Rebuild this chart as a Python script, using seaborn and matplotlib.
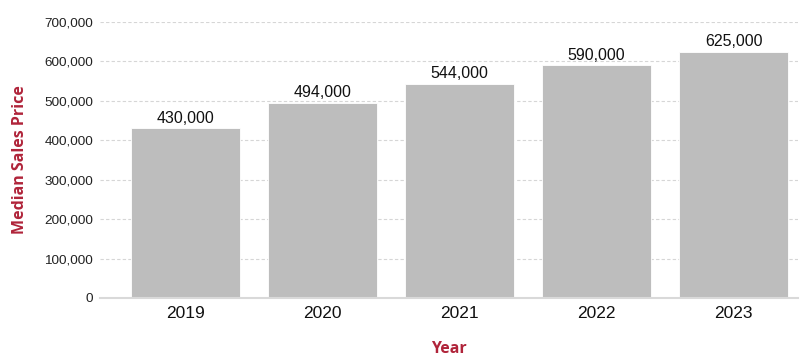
import matplotlib
matplotlib.use("Agg")
import matplotlib.pyplot as plt
import seaborn as sns
import pandas as pd
from matplotlib.ticker import FuncFormatter

years = ["2019", "2020", "2021", "2022", "2023"]
prices = [430000, 494000, 544000, 590000, 625000]
yticks = [0, 100000, 200000, 300000, 400000, 500000, 600000, 700000]

df = pd.DataFrame({"Year": years, "Price": prices})

sns.set_theme(style="white")
plt.rcParams["font.family"] = ["Liberation Sans", "DejaVu Sans"]

fig = plt.figure(figsize=(8, 3.62), dpi=100)
ax = fig.add_axes([0.125, 0.1768, 0.8725, 0.7624])

sns.barplot(data=df, x="Year", y="Price", color="#BDBDBD", saturation=1,
            width=0.8, edgecolor="white", linewidth=0.6, ax=ax, zorder=3)

ax.set_ylim(0, 700000)
ax.set_xlim(-0.625, 4.47)
ax.set_yticks(yticks)
ax.yaxis.set_major_formatter(FuncFormatter(lambda v, p: f"{int(v):,}"))
ax.grid(axis="y", color="#D6D6D6", linestyle=(0, (3, 2)), linewidth=0.8, zorder=0)
ax.grid(axis="x", visible=False)
for s in ["top", "right", "left"]:
    ax.spines[s].set_visible(False)
ax.spines["bottom"].set_color("#D9D9D9")
ax.spines["bottom"].set_linewidth(1.5)
ax.spines["bottom"].set_zorder(4)

ax.tick_params(axis="y", length=0, pad=5, labelsize=9.7, labelcolor="#222222")
ax.tick_params(axis="x", length=0, pad=6, labelsize=12.5, labelcolor="#111111")

for c in ax.containers:
    ax.bar_label(c, labels=[f"{v:,}" for v in prices], padding=2,
                 fontsize=11.5, color="#111111")

ax.set_ylabel("Median Sales Price", family=["Open Sans", "DejaVu Sans"],
              fontweight="bold", fontsize=11.5, color="#B0243A", labelpad=12)
ax.set_xlabel("Year", family=["Open Sans", "DejaVu Sans"],
              fontweight="bold", fontsize=11.5, color="#B0243A", labelpad=14)

fig.savefig("out.png", dpi=100)
